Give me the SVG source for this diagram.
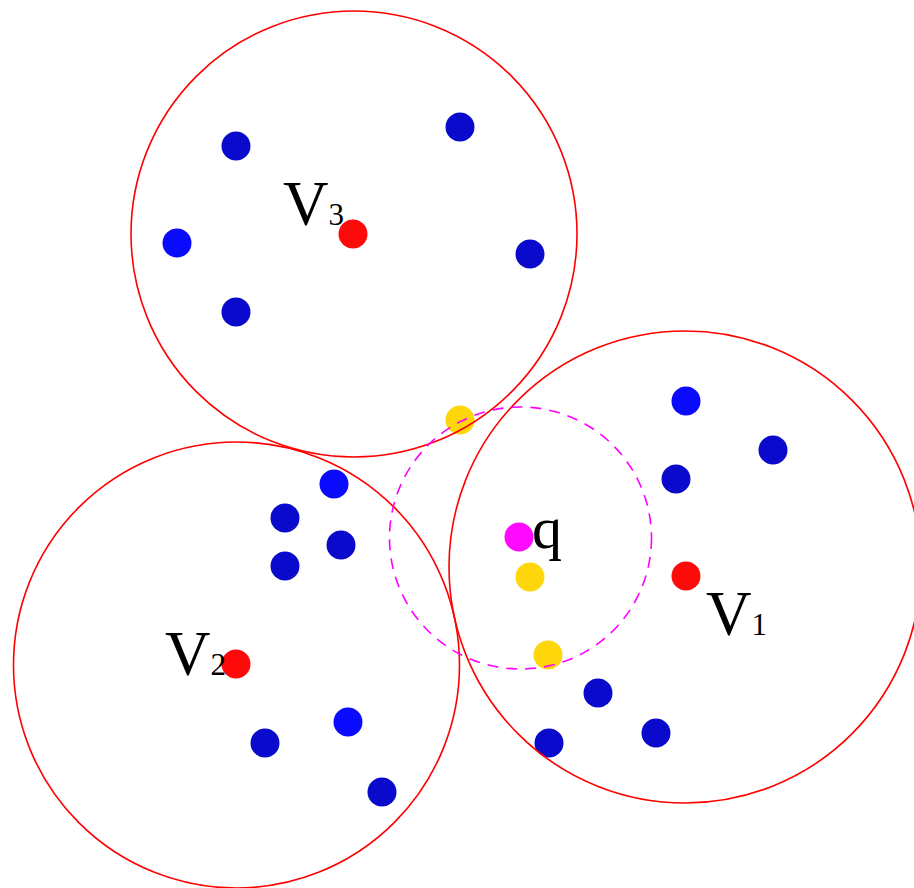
<svg xmlns="http://www.w3.org/2000/svg" width="914" height="888" viewBox="0 0 914 888">
<style>
.bb{fill:#0A0AFF}
.bd{fill:#0A0ACC}
.rd{fill:#FF0A0A}
.yl{fill:#FFD60A}
.mg{fill:#FF0AFF}
.ring{fill:none;stroke:#FF0000;stroke-width:1.6}
.dash{fill:none;stroke:#FF00FF;stroke-width:1.6;stroke-dasharray:11 8}
.lbl{font-family:"Liberation Serif","Times New Roman",serif;fill:#000;font-size:63px}
.sub{font-size:31px}
</style>
<rect width="914" height="888" fill="#fff"/>
<g id="points">
<circle class="bd" cx="236" cy="146" r="14.5"/>
<circle class="bd" cx="460" cy="127" r="14.5"/>
<circle class="bb" cx="177" cy="243" r="14.5"/>
<circle class="bd" cx="530" cy="254" r="14.5"/>
<circle class="bd" cx="236" cy="312" r="14.5"/>
<circle class="bb" cx="686" cy="401" r="14.5"/>
<circle class="bd" cx="773" cy="450" r="14.5"/>
<circle class="bd" cx="676" cy="479" r="14.5"/>
<circle class="bb" cx="334" cy="484" r="14.5"/>
<circle class="bd" cx="285" cy="518" r="14.5"/>
<circle class="bd" cx="341" cy="545" r="14.5"/>
<circle class="bd" cx="285" cy="566" r="14.5"/>
<circle class="bb" cx="348" cy="722" r="14.5"/>
<circle class="bd" cx="265" cy="743" r="14.5"/>
<circle class="bd" cx="382" cy="792" r="14.5"/>
<circle class="bd" cx="598" cy="693" r="14.5"/>
<circle class="bd" cx="656" cy="733" r="14.5"/>
<circle class="bd" cx="549" cy="743" r="14.5"/>
<circle class="yl" cx="460" cy="420" r="14.5"/>
<circle class="yl" cx="530" cy="577" r="14.5"/>
<circle class="yl" cx="548" cy="655" r="14.5"/>
</g>
<g id="V3">
<circle class="ring" cx="354" cy="234" r="223"/>
<circle class="rd" cx="353" cy="234" r="14.5"/>
<text class="lbl" x="283" y="225">V<tspan class="sub">3</tspan></text>
</g>
<g id="V2">
<circle class="ring" cx="236.5" cy="665" r="223"/>
<circle class="rd" cx="236" cy="664" r="14.5"/>
<text class="lbl" x="165" y="675">V<tspan class="sub">2</tspan></text>
</g>
<g id="V1">
<circle class="ring" cx="685" cy="567" r="236"/>
<circle class="rd" cx="686" cy="576" r="14.5"/>
<text class="lbl" x="706" y="635">V<tspan class="sub">1</tspan></text>
</g>
<g id="q">
<circle class="dash" cx="520.5" cy="538" r="131"/>
<circle class="mg" cx="519" cy="537" r="14.5"/>
<text class="lbl" x="532" y="548" style="font-size:60px">q</text>
</g>
</svg>
